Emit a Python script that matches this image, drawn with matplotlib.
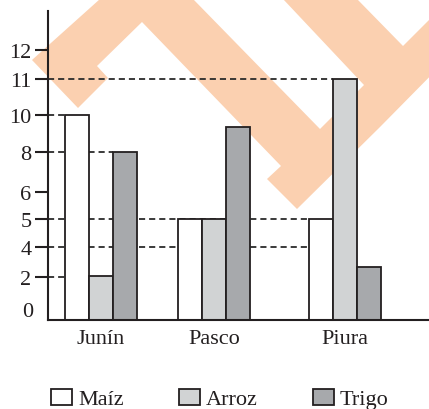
import numpy as np
import matplotlib
matplotlib.use("Agg")
import matplotlib.pyplot as plt
from matplotlib.patches import Polygon, Patch

# ---------------- data ----------------
categories = ["Junín", "Pasco", "Piura"]
series_names = ["Maíz", "Arroz", "Trigo"]
maiz = [10, 5, 5]
arroz = [2.1, 5, 11]
trigo = [8, 9.35, 2.65]
ytick_values = [2, 4, 5, 6, 8, 10, 11, 12]
ytick_labels = ["2", "4", "5", "6", "8", "10", "11", "12"]
zero_label = "0"
# reference dashed lines: value, category index, series index (line ends at that bar's left edge)
ref_values = [11, 10, 8, 5, 4, 2]
ref_cat = [2, 0, 0, 2, 2, 0]
ref_series = [1, 0, 2, 0, 0, 0]

# ---------------- style / layout ----------------
W, H = 429, 410
DPI = 100
FONT = "Liberation Serif"
FS = 16
INK = "#231F20"
colors = ["#FFFFFF", "#D1D3D4", "#A7A9AC"]
group_x = [52.5, 166, 297]      # group centres along the x axis (layout units)
bar_w = 24
offsets = [-24, 0, 24]

# non-uniform vertical scale of the original drawing
scale_vals = [0, 2, 4, 5, 6, 8, 10, 11, 12, 13]
scale_pos = [0, 43, 73, 101, 128, 168, 205, 241, 270, 309]


def fwd(v):
    v = np.asarray(v, dtype=float)
    out = np.interp(v, scale_vals, scale_pos)
    s0 = (scale_pos[1] - scale_pos[0]) / (scale_vals[1] - scale_vals[0])
    s1 = (scale_pos[-1] - scale_pos[-2]) / (scale_vals[-1] - scale_vals[-2])
    out = np.where(v < scale_vals[0], scale_pos[0] + (v - scale_vals[0]) * s0, out)
    out = np.where(v > scale_vals[-1], scale_pos[-1] + (v - scale_vals[-1]) * s1, out)
    return out


def inv(p):
    p = np.asarray(p, dtype=float)
    out = np.interp(p, scale_pos, scale_vals)
    s0 = (scale_vals[1] - scale_vals[0]) / (scale_pos[1] - scale_pos[0])
    s1 = (scale_vals[-1] - scale_vals[-2]) / (scale_pos[-1] - scale_pos[-2])
    out = np.where(p < scale_pos[0], scale_vals[0] + (p - scale_pos[0]) * s0, out)
    out = np.where(p > scale_pos[-1], scale_vals[-1] + (p - scale_pos[-1]) * s1, out)
    return out


plt.rcParams["font.family"] = [FONT, "DejaVu Serif"]
fig = plt.figure(figsize=(W / DPI, H / DPI), dpi=DPI)
fig.patch.set_facecolor("white")

# watermark (drawn behind everything)
wm_px = [(32, 61), (100, 0), (193, 0), (320, 130), (364, 86), (283, 0), (357, 0),
         (403, 47), (450, 0), (450, 57), (380, 128), (297, 210), (267, 180),
         (281, 167), (142, 23), (97, 67), (108, 79), (78, 109)]
wm = Polygon([(x / W, 1 - y / H) for x, y in wm_px], closed=True,
             transform=fig.transFigure, facecolor="#FBD0B0", edgecolor="none",
             zorder=-5)
fig.add_artist(wm)

ax_l, ax_r, ax_b, ax_t = 48, 429, 321, 12
ax = fig.add_axes([ax_l / W, 1 - ax_b / H, (ax_r - ax_l) / W, (ax_b - ax_t) / H])
ax.set_facecolor("none")
ax.set_yscale("function", functions=(fwd, inv))
ax.set_xlim(0, ax_r - ax_l)
ax.set_ylim(0, 13)

series = [maiz, arroz, trigo]
for si, vals in enumerate(series):
    xs = [gx + offsets[si] for gx in group_x]
    ax.bar(xs, vals, width=bar_w, color=colors[si], edgecolor=INK,
           linewidth=1.3, zorder=3, label=series_names[si])

# dashed reference lines (end at the left edge of the bar they refer to)
for v, ci, si in zip(ref_values, ref_cat, ref_series):
    x_end = group_x[ci] + offsets[si] - bar_w / 2
    ax.hlines(v, 0, x_end, colors="#2b2b2b", linewidth=1.3,
              linestyles=(0, (3.4, 2.2)), zorder=2)

for side in ["top", "right"]:
    ax.spines[side].set_visible(False)
for side in ["left", "bottom"]:
    ax.spines[side].set_linewidth(1.5)
    ax.spines[side].set_color(INK)
    ax.spines[side].set_zorder(4)

ax.set_yticks(ytick_values)
ax.set_yticklabels(ytick_labels)
ax.yaxis.set_minor_locator(matplotlib.ticker.NullLocator())
ax.tick_params(axis="y", direction="out", length=9.4, width=1.5, color=INK,
               pad=2.5, labelsize=FS, labelcolor=INK)
ax.annotate(zero_label, xy=(0, 0), xycoords=("axes fraction", "data"),
            xytext=(-10.6, 6), textcoords="offset points", ha="right",
            va="center", fontsize=FS, color=INK)

ax.set_xticks(group_x)
ax.set_xticklabels(categories)
ax.tick_params(axis="x", length=0, pad=6.5, labelsize=FS, labelcolor=INK)

handles = [Patch(facecolor=c, edgecolor=INK, linewidth=1.3) for c in colors]
fig.legend(handles, series_names, ncol=3, loc="center",
           bbox_to_anchor=(220 / W, 1 - 400 / H), frameon=False,
           fontsize=FS, handlelength=0.95, handleheight=0.75,
           handletextpad=0.25, columnspacing=2.5, labelcolor=INK)

fig.savefig("out.png", dpi=DPI)
